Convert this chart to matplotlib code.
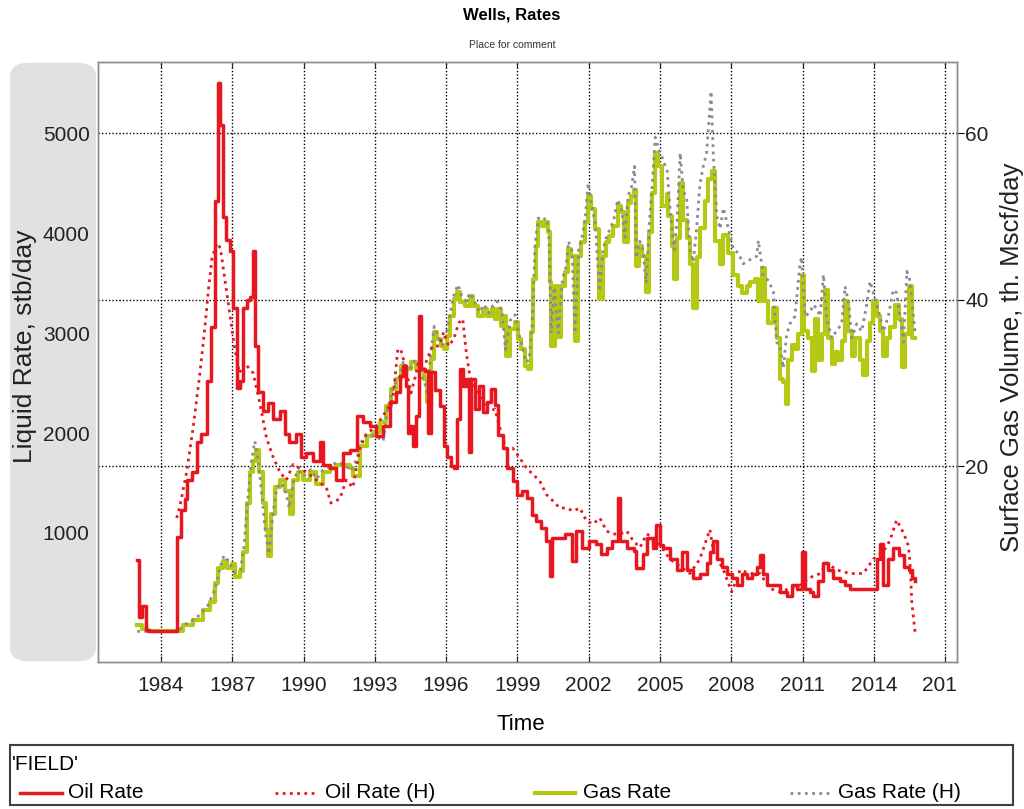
import numpy as np
import matplotlib
matplotlib.use('Agg')
import matplotlib.pyplot as plt
from matplotlib.patches import FancyBboxPatch, Rectangle
from matplotlib.lines import Line2D
from matplotlib.transforms import Bbox, TransformedBbox

plt.rcParams['font.family'] = ['Liberation Sans', 'DejaVu Sans']

# (decimal year, stb/day)
oil_rate = [
    (1983.00, 730), (1983.08, 160), (1983.20, 270), (1983.35, 30), (1983.50, 20),
    (1984.69, 960), (1984.85, 1230), (1985.00, 1340), (1985.10, 1530), (1985.30, 1610),
    (1985.50, 1910), (1985.70, 1990), (1985.92, 2525), (1986.10, 3060), (1986.27, 4320),
    (1986.42, 5500), (1986.50, 5080), (1986.62, 4160), (1986.75, 3930), (1986.90, 3820),
    (1987.04, 3250), (1987.18, 2450), (1987.32, 2525), (1987.46, 3250), (1987.60, 3330),
    (1987.74, 3365), (1987.88, 3820), (1987.95, 2870), (1988.10, 2410), (1988.30, 2220),
    (1988.50, 2300), (1988.72, 2140), (1989.00, 2220), (1989.21, 1990), (1989.40, 1910),
    (1989.70, 1990), (1989.90, 1760), (1990.12, 1800), (1990.40, 1720), (1990.68, 1910),
    (1990.82, 1680), (1991.10, 1650), (1991.38, 1530), (1991.66, 1800), (1991.94, 1830),
    (1992.24, 2170), (1992.50, 2110), (1992.78, 2070), (1993.06, 1970), (1993.34, 2070),
    (1993.62, 2310), (1993.90, 2410), (1994.05, 2570), (1994.20, 2670), (1994.31, 2470),
    (1994.38, 2000), (1994.50, 2070), (1994.60, 1870), (1994.72, 2170), (1994.84, 3170),
    (1994.95, 2640), (1995.10, 2620), (1995.25, 2000), (1995.35, 2610), (1995.55, 2430),
    (1995.75, 2270), (1995.90, 1870), (1996.05, 1760), (1996.20, 1670), (1996.32, 1650),
    (1996.45, 2140), (1996.60, 2640), (1996.70, 2470), (1996.82, 2540), (1996.95, 1815),
    (1997.05, 2540), (1997.20, 2240), (1997.40, 2470), (1997.55, 2210), (1997.70, 2310),
    (1997.90, 2440), (1998.05, 2280), (1998.20, 1980), (1998.40, 1850), (1998.55, 1650),
    (1998.80, 1520), (1999.00, 1385), (1999.20, 1420), (1999.40, 1350), (1999.60, 1185),
    (1999.80, 1120), (2000.00, 1055), (2000.22, 920), (2000.36, 575), (2000.45, 955),
    (2000.70, 955), (2001.00, 990), (2001.30, 720), (2001.45, 1020), (2001.70, 855),
    (2002.00, 920), (2002.30, 890), (2002.50, 790), (2002.75, 855), (2003.00, 920),
    (2003.25, 1350), (2003.32, 920), (2003.60, 855), (2003.90, 820), (2004.00, 655),
    (2004.30, 790), (2004.44, 955), (2004.70, 855), (2004.85, 1085), (2005.00, 880),
    (2005.14, 850), (2005.42, 740), (2005.70, 630), (2005.91, 815), (2006.12, 630),
    (2006.40, 555), (2006.68, 595), (2006.96, 705), (2007.10, 815), (2007.25, 925),
    (2007.39, 740), (2007.60, 665), (2007.81, 595), (2008.02, 555), (2008.23, 480),
    (2008.44, 595), (2008.65, 555), (2008.86, 595), (2009.07, 665), (2009.21, 780),
    (2009.35, 595), (2009.49, 480), (2009.77, 480), (2010.05, 410), (2010.33, 370),
    (2010.54, 480), (2010.75, 445), (2010.96, 815), (2011.10, 445), (2011.32, 410),
    (2011.46, 370), (2011.67, 520), (2011.88, 700), (2012.09, 630), (2012.30, 555),
    (2012.58, 520), (2012.79, 480), (2013.00, 445), (2013.28, 445), (2013.56, 445),
    (2013.84, 445), (2014.12, 740), (2014.26, 890), (2014.40, 480), (2014.61, 740),
    (2014.82, 850), (2015.04, 780), (2015.25, 665), (2015.46, 630), (2015.60, 555),
    (2015.74, 520),
]

oil_rate_hist = [
    (1984.66, 1150), (1984.80, 1270), (1985.08, 1610), (1985.36, 2065), (1985.64, 2600),
    (1985.85, 3060), (1986.00, 3440), (1986.15, 3750), (1986.35, 3900), (1986.50, 3850),
    (1986.65, 3600), (1986.80, 3350), (1986.95, 3100), (1987.10, 2850), (1987.30, 2600),
    (1987.50, 2700), (1987.70, 2650), (1987.88, 2600), (1988.16, 2300), (1988.44, 1950),
    (1988.72, 1760), (1989.00, 1610), (1989.28, 1530), (1989.56, 1685), (1989.84, 1645),
    (1990.12, 1610), (1990.54, 1530), (1990.96, 1455), (1991.15, 1300), (1991.52, 1340),
    (1991.80, 1530), (1992.08, 1455), (1992.36, 1840), (1992.64, 1990), (1993.06, 2070),
    (1993.48, 2220), (1993.76, 2340), (1993.97, 2840), (1994.10, 2830), (1994.31, 2640),
    (1994.52, 2400), (1994.70, 2560), (1994.87, 2740), (1995.14, 2700), (1995.42, 2870),
    (1995.70, 2870), (1995.90, 3010), (1996.11, 2870), (1996.32, 2940), (1996.53, 3100),
    (1996.70, 3140), (1996.85, 2800), (1997.00, 2570), (1997.20, 2450), (1997.50, 2340),
    (1997.77, 2210), (1998.05, 2240), (1998.32, 2000), (1998.53, 1840), (1998.80, 1850),
    (1999.10, 1750), (1999.38, 1650), (1999.66, 1585), (1999.94, 1520), (2000.22, 1385),
    (2000.50, 1320), (2000.78, 1250), (2001.07, 1250), (2001.35, 1220), (2001.63, 1250),
    (2001.91, 1120), (2002.19, 1090), (2002.47, 1150), (2002.75, 1020), (2003.03, 990),
    (2003.32, 990), (2003.60, 1020), (2003.88, 920), (2004.16, 855), (2004.44, 990),
    (2004.72, 955), (2005.00, 880), (2005.42, 740), (2005.84, 665), (2006.26, 595),
    (2006.68, 740), (2007.10, 1035), (2007.25, 815), (2007.67, 630), (2008.02, 410),
    (2008.37, 630), (2008.79, 595), (2009.21, 595), (2009.63, 445), (2010.05, 410),
    (2010.47, 445), (2010.89, 480), (2011.32, 555), (2011.74, 595), (2012.02, 700),
    (2012.44, 630), (2013.00, 595), (2013.56, 595), (2013.98, 740), (2014.40, 815),
    (2014.68, 925), (2014.96, 1130), (2015.25, 1000), (2015.46, 870), (2015.53, 665),
    (2015.60, 300), (2015.67, 150), (2015.74, 0),
]

# (decimal year, th. Mscf/day)
gas_rate = [
    (1983.00, 1.0), (1983.20, 0.5), (1983.40, 0.3), (1984.70, 0.3), (1984.94, 1.0),
    (1985.36, 1.6), (1985.78, 2.8), (1986.06, 3.7), (1986.27, 6.0), (1986.41, 7.8),
    (1986.62, 8.7), (1986.76, 7.8), (1986.97, 8.3), (1987.11, 6.7), (1987.32, 7.4),
    (1987.46, 9.7), (1987.60, 15.6), (1987.74, 19.3), (1987.88, 20.7), (1987.99, 22.0),
    (1988.13, 19.3), (1988.30, 15.6), (1988.44, 12.4), (1988.51, 9.2), (1988.65, 14.3),
    (1988.79, 17.5), (1989.00, 18.4), (1989.21, 17.0), (1989.42, 14.3), (1989.56, 18.4),
    (1989.77, 19.3), (1989.98, 18.4), (1990.26, 19.3), (1990.54, 17.9), (1990.82, 19.3),
    (1991.10, 19.8), (1991.38, 20.2), (1991.66, 20.2), (1991.94, 19.8), (1992.10, 18.9),
    (1992.38, 22.5), (1992.65, 23.7), (1992.93, 24.1), (1993.20, 25.3), (1993.48, 27.3),
    (1993.69, 29.3), (1993.90, 30.5), (1994.10, 32.1), (1994.31, 31.7), (1994.52, 32.5),
    (1994.73, 31.7), (1994.94, 31.7), (1995.07, 30.5), (1995.21, 27.7), (1995.35, 32.9),
    (1995.49, 36.1), (1995.63, 35.3), (1995.77, 34.5), (1995.90, 34.1), (1996.04, 35.7),
    (1996.18, 38.1), (1996.32, 40.1), (1996.46, 40.9), (1996.60, 39.7), (1996.80, 39.3),
    (1997.00, 40.5), (1997.15, 39.3), (1997.36, 38.1), (1997.56, 38.9), (1997.70, 38.1),
    (1997.91, 38.9), (1998.05, 37.7), (1998.19, 38.9), (1998.32, 36.9), (1998.39, 38.1),
    (1998.53, 33.3), (1998.67, 36.5), (1998.89, 37.3), (1999.03, 35.3), (1999.17, 34.1),
    (1999.31, 32.1), (1999.45, 31.7), (1999.59, 36.1), (1999.67, 42.5), (1999.78, 46.5),
    (1999.88, 49.3), (2000.02, 48.9), (2000.16, 49.3), (2000.30, 48.1), (2000.36, 42.1),
    (2000.43, 34.5), (2000.57, 41.7), (2000.71, 35.5), (2000.85, 41.7), (2000.99, 43.3),
    (2001.13, 46.1), (2001.27, 45.3), (2001.41, 35.0), (2001.55, 45.3), (2001.69, 46.9),
    (2001.83, 49.3), (2001.97, 52.4), (2002.11, 50.9), (2002.25, 48.5), (2002.45, 40.1),
    (2002.59, 45.3), (2002.73, 46.9), (2002.87, 47.7), (2003.01, 48.9), (2003.22, 51.3),
    (2003.36, 50.5), (2003.50, 46.9), (2003.64, 51.6), (2003.78, 52.4), (2003.92, 53.2),
    (2003.99, 44.1), (2004.13, 46.5), (2004.26, 45.3), (2004.40, 40.9), (2004.54, 48.1),
    (2004.68, 52.8), (2004.78, 57.6), (2004.93, 56.0), (2005.10, 51.3), (2005.28, 52.7),
    (2005.35, 50.0), (2005.49, 46.5), (2005.59, 42.5), (2005.70, 47.4), (2005.84, 54.0),
    (2005.98, 49.6), (2006.12, 47.4), (2006.26, 44.3), (2006.40, 39.0), (2006.54, 45.1),
    (2006.68, 48.6), (2006.89, 51.8), (2007.04, 54.5), (2007.18, 55.4), (2007.32, 47.0),
    (2007.53, 44.3), (2007.67, 47.8), (2007.88, 45.6), (2008.09, 43.0), (2008.30, 41.6),
    (2008.44, 40.8), (2008.65, 41.6), (2008.79, 42.1), (2009.00, 42.5), (2009.14, 39.9),
    (2009.28, 43.8), (2009.42, 39.9), (2009.56, 37.2), (2009.77, 39.0), (2009.91, 35.4),
    (2010.05, 30.5), (2010.19, 30.1), (2010.31, 27.5), (2010.40, 32.8), (2010.54, 34.6),
    (2010.68, 34.1), (2010.82, 35.9), (2010.96, 43.0), (2011.06, 36.3), (2011.25, 35.4),
    (2011.39, 31.4), (2011.53, 37.7), (2011.67, 32.8), (2011.81, 35.9), (2011.95, 41.2),
    (2012.09, 35.4), (2012.23, 32.3), (2012.37, 33.7), (2012.51, 32.8), (2012.65, 35.0),
    (2012.79, 39.9), (2012.93, 36.3), (2013.07, 33.2), (2013.21, 35.4), (2013.42, 32.8),
    (2013.56, 31.0), (2013.70, 35.0), (2013.84, 37.2), (2013.98, 39.9), (2014.12, 38.1),
    (2014.26, 36.3), (2014.40, 33.2), (2014.54, 35.4), (2014.68, 36.7), (2014.89, 39.4),
    (2015.04, 37.7), (2015.18, 31.9), (2015.32, 35.9), (2015.46, 41.6), (2015.60, 35.4),
    (2015.74, 35.4),
]

gas_rate_hist = [
    (1983.00, 0.2), (1984.70, 0.2), (1985.00, 1.0), (1985.50, 1.8), (1986.00, 3.4),
    (1986.30, 5.5), (1986.50, 8.0), (1986.65, 9.3), (1986.85, 8.6), (1987.10, 7.3),
    (1987.35, 7.6), (1987.50, 10.5), (1987.65, 16.0), (1987.80, 20.5), (1987.95, 23.0),
    (1988.10, 20.5), (1988.25, 16.5), (1988.40, 12.0), (1988.55, 9.5), (1988.70, 14.0),
    (1988.85, 17.0), (1989.00, 18.0), (1989.20, 17.5), (1989.40, 15.0), (1989.60, 18.6),
    (1989.80, 19.5), (1990.00, 18.8), (1990.30, 19.6), (1990.55, 18.5), (1990.80, 19.5),
    (1991.10, 20.0), (1991.40, 20.5), (1991.70, 20.2), (1992.00, 19.5), (1992.25, 21.0),
    (1992.50, 23.5), (1992.80, 23.8), (1993.10, 23.5), (1993.35, 23.0), (1993.55, 27.0),
    (1993.80, 29.8), (1994.00, 30.5), (1994.20, 32.5), (1994.45, 31.5), (1994.70, 32.8),
    (1994.95, 31.0), (1995.10, 30.0), (1995.22, 28.5), (1995.35, 33.5), (1995.50, 36.8),
    (1995.65, 35.5), (1995.85, 34.6), (1996.05, 36.5), (1996.20, 38.8), (1996.35, 40.8),
    (1996.50, 41.8), (1996.65, 40.5), (1996.85, 39.8), (1997.00, 40.8), (1997.20, 39.8),
    (1997.40, 38.5), (1997.60, 39.4), (1997.80, 38.4), (1997.95, 39.2), (1998.15, 39.8),
    (1998.35, 38.6), (1998.50, 34.0), (1998.70, 37.5), (1998.90, 38.2), (1999.05, 36.0),
    (1999.20, 34.5), (1999.35, 32.5), (1999.50, 32.8), (1999.62, 37.0), (1999.75, 46.8),
    (1999.88, 49.8), (2000.05, 49.5), (2000.20, 49.8), (2000.32, 48.5), (2000.42, 36.0),
    (2000.55, 41.5), (2000.72, 36.0), (2000.90, 42.5), (2001.05, 44.0), (2001.15, 47.0),
    (2001.30, 45.8), (2001.42, 36.0), (2001.58, 46.0), (2001.72, 47.5), (2001.86, 50.0),
    (2001.98, 54.0), (2002.12, 51.5), (2002.28, 49.0), (2002.45, 41.0), (2002.60, 46.0),
    (2002.75, 47.5), (2002.90, 48.5), (2003.05, 49.5), (2003.22, 52.0), (2003.38, 51.0),
    (2003.52, 47.5), (2003.66, 52.5), (2003.80, 53.5), (2003.93, 56.0), (2004.00, 45.0),
    (2004.15, 47.0), (2004.28, 46.0), (2004.42, 42.0), (2004.55, 49.0), (2004.68, 54.0),
    (2004.80, 59.5), (2004.95, 58.0), (2005.10, 57.0), (2005.30, 55.5), (2005.45, 50.0),
    (2005.60, 46.0), (2005.72, 49.5), (2005.85, 57.6), (2005.98, 53.0), (2006.12, 52.3),
    (2006.26, 46.0), (2006.40, 44.5), (2006.54, 48.5), (2006.68, 53.8), (2006.82, 56.0),
    (2006.96, 57.5), (2007.06, 61.5), (2007.15, 65.0), (2007.25, 57.0), (2007.39, 50.0),
    (2007.53, 48.5), (2007.67, 51.0), (2007.88, 48.5), (2008.09, 46.0), (2008.30, 45.6),
    (2008.50, 44.3), (2008.79, 44.8), (2009.07, 45.2), (2009.14, 47.1), (2009.35, 42.8),
    (2009.56, 42.3), (2009.77, 41.0), (2009.91, 34.9), (2010.05, 34.5), (2010.19, 31.8),
    (2010.33, 35.8), (2010.47, 37.1), (2010.68, 38.0), (2010.89, 44.2), (2010.96, 45.1),
    (2011.10, 38.0), (2011.32, 38.5), (2011.46, 39.4), (2011.60, 38.9), (2011.74, 38.0),
    (2011.88, 43.0), (2012.02, 37.6), (2012.23, 35.4), (2012.44, 36.3), (2012.65, 37.1),
    (2012.79, 41.6), (2012.95, 39.4), (2013.07, 35.4), (2013.28, 37.1), (2013.49, 36.2),
    (2013.70, 39.4), (2013.84, 42.2), (2013.98, 40.8), (2014.26, 38.0), (2014.40, 36.2),
    (2014.61, 38.0), (2014.82, 41.2), (2014.96, 40.8), (2015.10, 38.0), (2015.25, 34.9),
    (2015.39, 43.4), (2015.50, 42.5), (2015.60, 39.9), (2015.74, 35.9),
]

year_ticks = [1984, 1987, 1990, 1993, 1996, 1999, 2002, 2005, 2008, 2011, 2014, 2017]
liquid_ticks = [1000, 2000, 3000, 4000, 5000]
gas_ticks = [20, 40, 60]

RED = '#e8161e'
GREEN = '#b4c814'
GREY = '#8a8a96'
DOTS = (0, (1, 1.6))
GRID = (0, (1, 1.5))

W, H = 1024, 809
fig = plt.figure(figsize=(W / 100, H / 100), dpi=100)

# grey rounded panel behind the left tick labels
fig.add_artist(FancyBboxPatch((14 / W, 1 - 658 / H), 78 / W, 592 / H,
                              boxstyle='round,pad=0.004,rounding_size=0.018',
                              transform=fig.transFigure, facecolor='#e1e1e1',
                              edgecolor='none', zorder=0))

ax1 = fig.add_axes([98 / W, 1 - 662 / H, 859 / W, 600 / H])
ax2 = ax1.twinx()
ax1.set_zorder(ax2.get_zorder() + 1)
ax1.patch.set_visible(False)

t, v = np.array(oil_rate).T
ax1.plot(t, v, color=RED, lw=2.5, drawstyle='steps-post', zorder=3)
t, v = np.array(oil_rate_hist).T
ax1.plot(t, v, color=RED, lw=2.0, linestyle=DOTS, zorder=4)
t, v = np.array(gas_rate).T
ax2.plot(t, v, color=GREEN, lw=3.0, drawstyle='steps-post', zorder=3)
t, v = np.array(gas_rate_hist).T
ax2.plot(t, v, color=GREY, lw=2.0, linestyle=DOTS, zorder=4)

ax1.set_xlim(1981.35, 2017.5)
ylo, yhi = -290, 5710
ax1.set_ylim(ylo, yhi)
ax2.set_ylim(ylo / 83.333, yhi / 83.333)

ax1.set_xticks(year_ticks)
ax1.set_xticklabels([str(y) for y in year_ticks])
ax1.set_yticks(liquid_ticks)
ax2.set_yticks(gas_ticks)

ax1.tick_params(axis='x', direction='in', length=4, top=True, pad=10,
                labelsize=15, colors='#222222')
ax1.tick_params(axis='y', length=0, pad=6, labelsize=15, labelcolor='#222222')
ax2.tick_params(axis='y', length=5, width=0.8, pad=1, labelsize=15,
                labelcolor='#222222')

# dotted grid sits on the lower (gas) axes so every curve is drawn over it
ax2.grid(True, axis='y', color='k', linestyle=GRID, linewidth=1.0)
for yr in year_ticks:
    ax2.axvline(yr, color='k', linestyle=GRID, linewidth=1.0, zorder=0.5)
for ax in (ax1, ax2):
    for s in ax.spines.values():
        s.set_color('#8c8c8c')
        s.set_linewidth(1.0)

# the last year label runs past the frame and gets cut at its right edge
last = ax1.xaxis.get_major_ticks()[-1].label1
last.set_clip_box(TransformedBbox(Bbox.from_extents(0, 0, 957 / W, 1), fig.transFigure))
last.set_clip_on(True)

fig.text(0.5, 1 - 15 / H, 'Wells, Rates', ha='center', va='center',
         fontsize=12, fontweight='bold')
fig.text(0.5, 1 - 45 / H, 'Place for comment', ha='center', va='center',
         fontsize=7.5, color='#333333')
fig.text(521 / W, 1 - 724 / H, 'Time', ha='center', va='center', fontsize=16)
fig.text(25 / W, 1 - 346 / H, 'Liquid Rate, stb/day', rotation=90,
         ha='center', va='center', fontsize=19, color='#222222')
fig.text(1012 / W, 1 - 357 / H, 'Surface Gas Volume, th. Mscf/day', rotation=90,
         ha='center', va='center', fontsize=18.5, color='#222222')

# legend panel
fig.add_artist(Rectangle((10 / W, 1 - 805 / H), 1003 / W, 60 / H,
                         transform=fig.transFigure, facecolor='white',
                         edgecolor='#404040', lw=1.5))
fig.text(12 / W, 1 - 764 / H, "'FIELD'", ha='left', va='center', fontsize=15)
entries = [
    ('Oil Rate', RED, '-', 2.5, 20, 62, 68),
    ('Oil Rate (H)', RED, DOTS, 2.0, 275, 318, 325),
    ('Gas Rate', GREEN, '-', 3.0, 535, 575, 583),
    ('Gas Rate (H)', GREY, DOTS, 2.0, 790, 830, 838),
]
ly = 1 - 793 / H
for name, col, ls, lw, x0, x1, xt in entries:
    fig.add_artist(Line2D([x0 / W, x1 / W], [ly, ly], transform=fig.transFigure,
                          color=col, linestyle=ls, lw=lw))
    fig.text(xt / W, ly, name, ha='left', va='center', fontsize=15)

fig.savefig('out.png', dpi=100)
